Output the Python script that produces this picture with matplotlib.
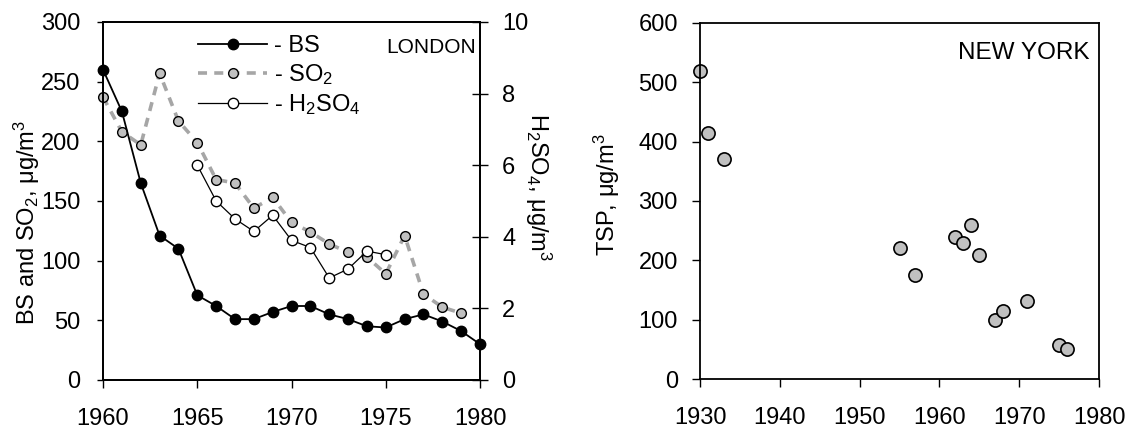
import numpy as np
import matplotlib
matplotlib.use("Agg")
import matplotlib.pyplot as plt

plt.rcParams['font.family'] = ['Liberation Sans', 'DejaVu Sans']
plt.rcParams['mathtext.fontset'] = 'custom'
plt.rcParams['mathtext.rm'] = 'Liberation Sans'
plt.rcParams['mathtext.it'] = 'Liberation Sans:italic'
plt.rcParams['mathtext.default'] = 'regular'

# London data
years_bs = np.arange(1960, 1981)
bs = [260, 225, 165, 121, 110, 71, 62, 51, 51, 57, 62, 62, 55, 51, 45, 44, 51, 55, 49, 41, 30]

years_so2 = np.arange(1960, 1980)
so2 = [237, 208, 197, 257, 217, 199, 168, 165, 144, 153, 132, 124, 114, 107, 103, 89, 121, 72, 61, 56]

years_h2so4 = np.arange(1965, 1976)
h2so4 = [6.0, 5.0, 4.5, 4.15, 4.6, 3.9, 3.7, 2.85, 3.1, 3.6, 3.5]

# New York TSP
years_tsp = [1930, 1931, 1933, 1955, 1957, 1962, 1963, 1964, 1965, 1967, 1968, 1971, 1975, 1976]
tsp = [519, 415, 370, 220, 175, 239, 229, 259, 209, 100, 114, 131, 57, 50]

fs = 17

fig = plt.figure(figsize=(11.3, 4.3), dpi=100)

# ---- London panel ----
ax = fig.add_axes([0.0912, 0.1163, 0.3336, 0.8326])
ax2 = ax.twinx()

l_so2, = ax.plot(years_so2, so2, color='#a6a6a6', linestyle=(0, (2.5, 2)), linewidth=2.6,
                 marker='o', markersize=7, markerfacecolor='#c0c0c0', markeredgecolor='k',
                 markeredgewidth=1.0, clip_on=False, zorder=2)
l_bs, = ax.plot(years_bs, bs, color='k', linewidth=1.3, marker='o', markersize=7.5,
                markerfacecolor='k', markeredgecolor='k', clip_on=False, zorder=3)
l_h2, = ax2.plot(years_h2so4, h2so4, color='k', linewidth=0.9, marker='o', markersize=7.5,
                 markerfacecolor='white', markeredgecolor='k', markeredgewidth=1.0,
                 clip_on=False, zorder=3)

ax.set_xlim(1960, 1980)
ax.set_ylim(0, 300)
ax2.set_ylim(0, 10)
ax.set_xticks(np.arange(1960, 1981, 5))
ax.set_yticks(np.arange(0, 301, 50))
ax2.set_yticks(np.arange(0, 11, 2))
ax.tick_params(axis='y', direction='out', length=4.5, width=1, labelsize=fs, pad=12)
ax.tick_params(axis='x', direction='out', length=6, width=1, labelsize=fs, pad=14)
ax2.tick_params(axis='y', direction='inout', length=12, width=1, labelsize=fs, pad=10)
for a in (ax, ax2):
    for s in a.spines.values():
        s.set_linewidth(1.3)
ax.set_ylabel(r'BS and SO$_2$, μg/m$^3$', fontsize=fs)
ax.yaxis.set_label_coords(-0.162, 0.44)
ax2.set_ylabel(r'H$_2$SO$_4$, μg/m$^3$', fontsize=fs, rotation=-90, va='bottom')
ax2.yaxis.set_label_coords(1.114, 0.54)
ax.text(0.99, 0.955, 'LONDON', transform=ax.transAxes, ha='right', va='top', fontsize=15)

ax.legend([l_bs, l_so2, l_h2], ['- BS', r'- SO$_2$', r'- H$_2$SO$_4$'],
          loc='upper left', bbox_to_anchor=(0.228, 0.99), frameon=False, fontsize=17,
          handlelength=2.9, handletextpad=0.3, labelspacing=0.22, borderaxespad=0)

# ---- New York panel ----
bx = fig.add_axes([0.6195, 0.1186, 0.3531, 0.828])
bx.plot(years_tsp, tsp, linestyle='none', marker='o', markersize=9.5,
        markerfacecolor='#c0c0c0', markeredgecolor='k', markeredgewidth=1.2, clip_on=False)
bx.set_xlim(1930, 1980)
bx.set_ylim(0, 600)
bx.set_xticks(np.arange(1930, 1981, 10))
bx.set_yticks(np.arange(0, 601, 100))
bx.tick_params(axis='y', direction='out', length=6, width=1, labelsize=fs, pad=10)
bx.tick_params(axis='x', direction='out', length=6, width=1, labelsize=fs, pad=14)
for s in bx.spines.values():
    s.set_linewidth(1.3)
bx.set_ylabel(r'TSP, μg/m$^3$', fontsize=fs)
bx.yaxis.set_label_coords(-0.195, 0.517)
bx.text(0.975, 0.947, 'NEW YORK', transform=bx.transAxes, ha='right', va='top', fontsize=17.5)

fig.savefig('out.png', dpi=100)
